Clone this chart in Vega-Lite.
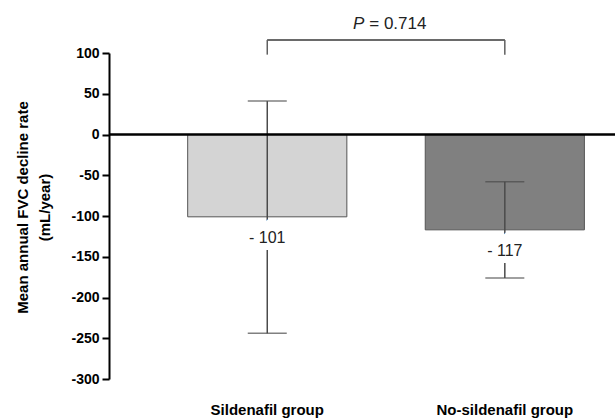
{
  "$schema": "https://vega.github.io/schema/vega-lite/v6.json",
  "width": 506,
  "height": 326,
  "autosize": "none",
  "padding": {"left": 109, "top": 53, "right": 0, "bottom": 41},
  "background": "white",
  "config": {"view": {"stroke": null}, "font": "Liberation Sans"},
  "datasets": {
    "bars": [
      {"group": "Sildenafil group", "mean": -101, "lower": -244, "upper": 41, "label": "- 101"},
      {"group": "No-sildenafil group", "mean": -117, "lower": -176, "upper": -58, "label": "- 117"}
    ]
  },
  "data": {"name": "bars"},
  "layer": [
    {
      "mark": {"type": "bar", "stroke": "#555555", "strokeWidth": 1},
      "encoding": {
        "x": {
          "field": "group", "type": "nominal", "sort": null,
          "scale": {"domain": ["Sildenafil group", "No-sildenafil group"], "paddingInner": 0.33, "paddingOuter": 0.23, "align": 0.72},
          "axis": {"title": null, "domain": false, "ticks": false, "labelAngle": 0, "labelPadding": 23, "labelFontSize": 15, "labelFontWeight": "bold", "labelColor": "#000000"}
        },
        "y": {
          "field": "mean", "type": "quantitative",
          "scale": {"domain": [-300, 100], "nice": false, "zero": false},
          "axis": {
            "title": ["Mean annual FVC decline rate", "(mL/year)"],
            "titleFontSize": 15, "titleFontWeight": "bold", "titleColor": "#000000", "titleLineHeight": 22, "titlePadding": 18, "titleY": 154,
            "values": [-300, -250, -200, -150, -100, -50, 0, 50, 100],
            "labelExpr": "toString(datum.value)",
            "grid": false, "domainColor": "#000000", "domainWidth": 2, "tickColor": "#000000", "tickWidth": 2, "tickSize": 7,
            "labelPadding": 3, "labelFontSize": 14, "labelFontWeight": "bold", "labelColor": "#000000"
          }
        },
        "color": {"field": "group", "type": "nominal", "scale": {"domain": ["Sildenafil group", "No-sildenafil group"], "range": ["#d4d4d4", "#808080"]}, "legend": null}
      }
    },
    {
      "mark": {"type": "rule", "color": "#4a4a4a", "strokeWidth": 1.5},
      "encoding": {"x": {"field": "group", "type": "nominal"}, "y": {"field": "upper", "type": "quantitative"}, "y2": {"field": "lower"}}
    },
    {
      "mark": {"type": "tick", "color": "#4a4a4a", "size": 39, "thickness": 1.5},
      "encoding": {"x": {"field": "group", "type": "nominal"}, "y": {"field": "upper", "type": "quantitative"}}
    },
    {
      "mark": {"type": "tick", "color": "#4a4a4a", "size": 39, "thickness": 1.5},
      "encoding": {"x": {"field": "group", "type": "nominal"}, "y": {"field": "lower", "type": "quantitative"}}
    },
    {
      "mark": {"type": "rule", "color": "#000000", "strokeWidth": 2},
      "encoding": {"y": {"datum": 0, "type": "quantitative"}}
    },
    {
      "mark": {"type": "text", "fontSize": 16, "dy": 21, "baseline": "middle", "stroke": "white", "strokeWidth": 14, "color": "white"},
      "encoding": {"x": {"field": "group", "type": "nominal"}, "y": {"field": "mean", "type": "quantitative"}, "text": {"field": "label"}}
    },
    {
      "mark": {"type": "text", "fontSize": 16, "dy": 21, "baseline": "middle", "color": "#222222"},
      "encoding": {"x": {"field": "group", "type": "nominal"}, "y": {"field": "mean", "type": "quantitative"}, "text": {"field": "label"}}
    },
    {
      "mark": {"type": "rule", "color": "#606060", "strokeWidth": 1.5},
      "encoding": {"x": {"field": "group", "type": "nominal"}, "y": {"datum": 116, "type": "quantitative"}, "y2": {"datum": 98}}
    },
    {
      "mark": {"type": "rule", "color": "#606060", "strokeWidth": 1.5},
      "encoding": {"x": {"datum": "Sildenafil group", "type": "nominal"}, "x2": {"datum": "No-sildenafil group"}, "y": {"datum": 116, "type": "quantitative"}}
    },
    {
      "data": {"values": [{"group": "Sildenafil group", "p": "P"}]},
      "mark": {"type": "text", "fontSize": 17, "fontStyle": "italic", "align": "right", "baseline": "alphabetic", "dx": 97, "color": "#222222"},
      "encoding": {"x": {"field": "group", "type": "nominal"}, "y": {"datum": 130, "type": "quantitative"}, "text": {"field": "p"}}
    },
    {
      "data": {"values": [{"group": "Sildenafil group", "p": "= 0.714"}]},
      "mark": {"type": "text", "fontSize": 17, "align": "left", "baseline": "alphabetic", "dx": 102, "color": "#222222"},
      "encoding": {"x": {"field": "group", "type": "nominal"}, "y": {"datum": 130, "type": "quantitative"}, "text": {"field": "p"}}
    }
  ]
}
